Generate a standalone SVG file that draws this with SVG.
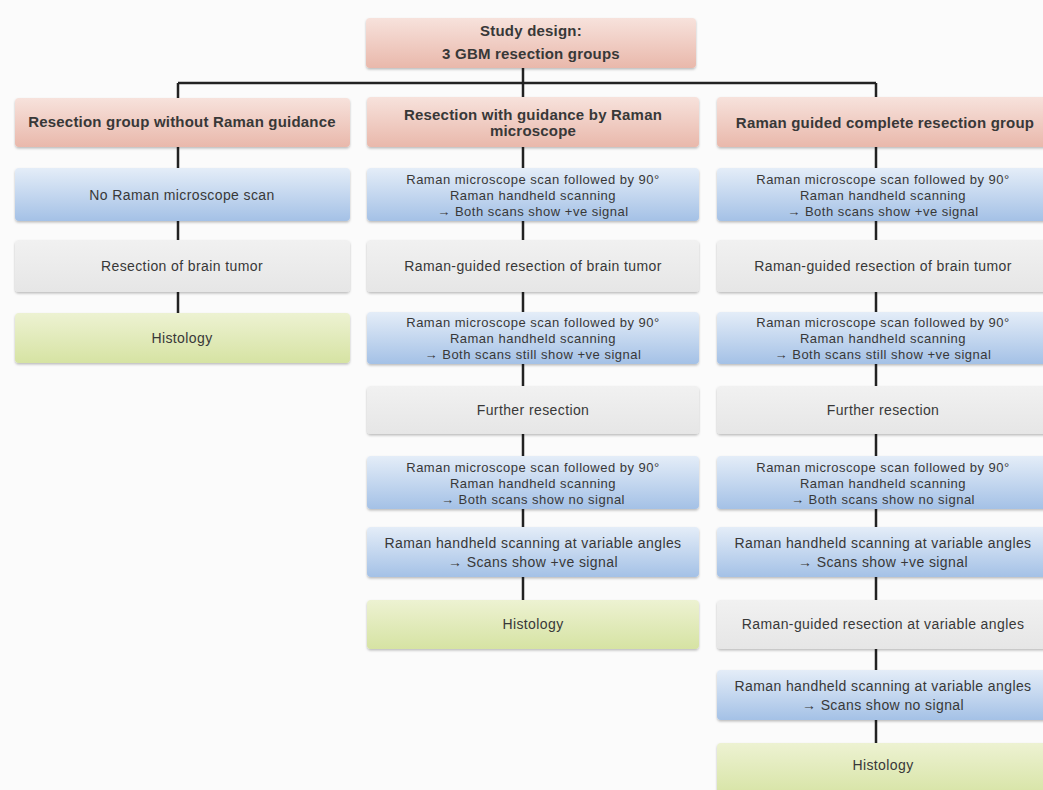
<svg xmlns="http://www.w3.org/2000/svg" width="1043" height="790" viewBox="0 0 1043 790">
<defs>
<linearGradient id="gPink" x1="0" y1="0" x2="0" y2="1"><stop offset="0" stop-color="#f7e2dc"/><stop offset="1" stop-color="#e9b8ab"/></linearGradient>
<linearGradient id="gBlue" x1="0" y1="0" x2="0" y2="1"><stop offset="0" stop-color="#e4edf8"/><stop offset="1" stop-color="#a4c1e6"/></linearGradient>
<linearGradient id="gGray" x1="0" y1="0" x2="0" y2="1"><stop offset="0" stop-color="#f1f1f1"/><stop offset="1" stop-color="#e6e6e6"/></linearGradient>
<linearGradient id="gGreen" x1="0" y1="0" x2="0" y2="1"><stop offset="0" stop-color="#edf2d2"/><stop offset="1" stop-color="#d6e3a3"/></linearGradient>
<filter id="sh" x="-5%" y="-10%" width="110%" height="130%"><feDropShadow dx="0" dy="1.5" stdDeviation="1.2" flood-color="#000" flood-opacity="0.25"/></filter>
</defs>
<style>
rect.b{rx:4;ry:4;filter:url(#sh);}
.pink{fill:url(#gPink);}
.blue{fill:url(#gBlue);}
.gray{fill:url(#gGray);}
.green{fill:url(#gGreen);}
text{font-family:"Liberation Sans",Arial,sans-serif;fill:#383838;text-anchor:middle;}
.h{font-size:15px;font-weight:bold;letter-spacing:0.2px;}
.s{font-size:13px;letter-spacing:0.5px;}
.m{font-size:14px;letter-spacing:0.4px;}
.c{stroke:#222;stroke-width:2.5;fill:none;}
</style>
<rect width="1043" height="790" fill="#fbfbfb"/>

<g id="connectors">
<path class="c" d="M178,83 H876"/>
<path class="c" d="M523,68 V97"/>
<path class="c" d="M178,83 V98 M178,147 V168 M178,221 V240 M178,292 V313"/>
<path class="c" d="M523,147 V168 M523,221 V240 M523,292 V312 M523,364 V386 M523,434 V456 M523,509 V527 M523,577 V600"/>
<path class="c" d="M876,83 V97 M876,147 V168 M876,221 V240 M876,292 V312 M876,364 V386 M876,434 V456 M876,509 V527 M876,577 V600 M876,649 V670 M876,720 V743"/>
</g>

<g id="top">
<rect class="b pink" x="366" y="18" width="330" height="50"/>
<text class="h" x="531" y="36">Study design:</text>
<text class="h" x="531" y="59">3 GBM resection groups</text>
</g>

<!-- Column 1 -->
<g id="c1-header"><rect class="b pink" x="15" y="98" width="335" height="49"/><text class="h" x="182" y="127">Resection group without Raman guidance</text></g>
<g id="c1-scan"><rect class="b blue" x="15" y="168" width="335" height="53"/><text class="m" x="182" y="200">No Raman microscope scan</text></g>
<g id="c1-resect"><rect class="b gray" x="15" y="240" width="335" height="52"/><text class="m" x="182" y="271">Resection of brain tumor</text></g>
<g id="c1-hist"><rect class="b green" x="15" y="313" width="335" height="50"/><text class="m" x="182" y="343">Histology</text></g>

<!-- Column 2 -->
<g id="c2-header"><rect class="b pink" x="367" y="97" width="332" height="50"/><text class="h" x="533" y="120">Resection with guidance by Raman</text><text class="h" x="533" y="136">microscope</text></g>
<g id="c2-scan1"><rect class="b blue" x="367" y="168" width="332" height="53"/><text class="s" x="533" y="184">Raman microscope scan followed by 90°</text><text class="s" x="533" y="200">Raman handheld scanning</text><text class="s" x="533" y="216">→ Both scans show +ve signal</text></g>
<g id="c2-resect"><rect class="b gray" x="367" y="240" width="332" height="52"/><text class="m" x="533" y="271">Raman-guided resection of brain tumor</text></g>
<g id="c2-scan2"><rect class="b blue" x="367" y="312" width="332" height="52"/><text class="s" x="533" y="327">Raman microscope scan followed by 90°</text><text class="s" x="533" y="343">Raman handheld scanning</text><text class="s" x="533" y="359">→ Both scans still show +ve signal</text></g>
<g id="c2-further"><rect class="b gray" x="367" y="386" width="332" height="48"/><text class="m" x="533" y="415">Further resection</text></g>
<g id="c2-scan3"><rect class="b blue" x="367" y="456" width="332" height="53"/><text class="s" x="533" y="472">Raman microscope scan followed by 90°</text><text class="s" x="533" y="488">Raman handheld scanning</text><text class="s" x="533" y="504">→ Both scans show no signal</text></g>
<g id="c2-hand"><rect class="b blue" x="367" y="527" width="332" height="50"/><text class="m" x="533" y="548">Raman handheld scanning at variable angles</text><text class="m" x="533" y="567">→ Scans show +ve signal</text></g>
<g id="c2-hist"><rect class="b green" x="367" y="600" width="332" height="49"/><text class="m" x="533" y="629">Histology</text></g>

<!-- Column 3 -->
<g id="c3-header"><rect class="b pink" x="717" y="97" width="333" height="50"/><text class="h" x="885" y="128">Raman guided complete resection group</text></g>
<g id="c3-scan1"><rect class="b blue" x="717" y="168" width="333" height="53"/><text class="s" x="883" y="184">Raman microscope scan followed by 90°</text><text class="s" x="883" y="200">Raman handheld scanning</text><text class="s" x="883" y="216">→ Both scans show +ve signal</text></g>
<g id="c3-resect"><rect class="b gray" x="717" y="240" width="333" height="52"/><text class="m" x="883" y="271">Raman-guided resection of brain tumor</text></g>
<g id="c3-scan2"><rect class="b blue" x="717" y="312" width="333" height="52"/><text class="s" x="883" y="327">Raman microscope scan followed by 90°</text><text class="s" x="883" y="343">Raman handheld scanning</text><text class="s" x="883" y="359">→ Both scans still show +ve signal</text></g>
<g id="c3-further"><rect class="b gray" x="717" y="386" width="333" height="48"/><text class="m" x="883" y="415">Further resection</text></g>
<g id="c3-scan3"><rect class="b blue" x="717" y="456" width="333" height="53"/><text class="s" x="883" y="472">Raman microscope scan followed by 90°</text><text class="s" x="883" y="488">Raman handheld scanning</text><text class="s" x="883" y="504">→ Both scans show no signal</text></g>
<g id="c3-hand1"><rect class="b blue" x="717" y="527" width="333" height="50"/><text class="m" x="883" y="548">Raman handheld scanning at variable angles</text><text class="m" x="883" y="567">→ Scans show +ve signal</text></g>
<g id="c3-resect2"><rect class="b gray" x="717" y="600" width="333" height="49"/><text class="m" x="883" y="629">Raman-guided resection at variable angles</text></g>
<g id="c3-hand2"><rect class="b blue" x="717" y="670" width="333" height="50"/><text class="m" x="883" y="691">Raman handheld scanning at variable angles</text><text class="m" x="883" y="710">→ Scans show no signal</text></g>
<g id="c3-hist"><rect class="b green" x="717" y="743" width="333" height="55"/><text class="m" x="883" y="770">Histology</text></g>
</svg>
